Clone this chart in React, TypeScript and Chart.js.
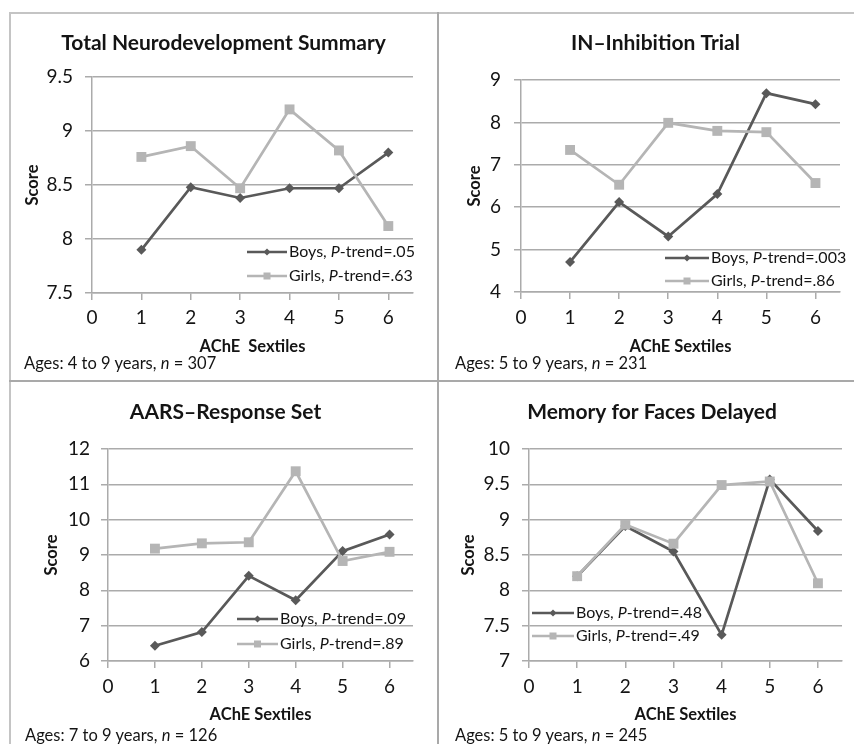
import React, { useEffect, useRef } from "react";
import { Chart, registerables } from "chart.js";

Chart.register(...registerables);

const FONT = "Lato, 'Open Sans', 'DejaVu Sans', sans-serif";
const BOYS_COLOR = "#595959";
const GIRLS_COLOR = "#b5b5b5";
const GRID_COLOR = "#ababab";
const TEXT_COLOR = "#141414";

// ---- data ----
const sextiles = [1, 2, 3, 4, 5, 6];
const xTickValues = [0, 1, 2, 3, 4, 5, 6];

const titles = [
  "Total Neurodevelopment Summary",
  "IN\u2013Inhibition Trial",
  "AARS\u2013Response Set",
  "Memory for Faces Delayed",
];
const xAxisTitles = ["AChE  Sextiles", "AChE Sextiles", "AChE Sextiles", "AChE Sextiles"];
const yAxisTitle = "Score";

const boysTotal = [7.9, 8.48, 8.38, 8.47, 8.47, 8.8];
const girlsTotal = [8.76, 8.86, 8.47, 9.2, 8.82, 8.12];
const boysInhibition = [4.71, 6.12, 5.31, 6.31, 8.69, 8.43];
const girlsInhibition = [7.35, 6.53, 7.99, 7.8, 7.77, 6.57];
const boysAars = [6.43, 6.82, 8.41, 7.72, 9.11, 9.58];
const girlsAars = [9.18, 9.33, 9.36, 11.37, 8.83, 9.09];
const boysFaces = [8.2, 8.91, 8.55, 7.37, 9.57, 8.84];
const girlsFaces = [8.2, 8.93, 8.66, 9.49, 9.54, 8.1];

const boysSeries = [boysTotal, boysInhibition, boysAars, boysFaces];
const girlsSeries = [girlsTotal, girlsInhibition, girlsAars, girlsFaces];
const boysPTrend = [".05", ".003", ".09", ".48"];
const girlsPTrend = [".63", ".86", ".89", ".49"];
const ageRanges = ["4 to 9", "5 to 9", "7 to 9", "5 to 9"];
const nValues = [307, 231, 126, 245];

const yMins = [7.5, 4, 6, 7];
const yMaxs = [9.5, 9, 12, 10];
const ySteps = [0.5, 1, 1, 0.5];
const xMin = 0;
const xMax = 6.5;

// ---- layout (page / canvas coordinates) ----
const layouts = [
  { left: 10, top: 14, w: 427, h: 366, yw: 82, pr: 24, pt: 63, xh: 87, yTitlePad: 13.1, yTickPad: 12, xTitlePad: 23.1, xTickPad: 6.6,
    titleX: 213.5, titleY: 29, legX1: 237, legX2: 277, legY: 238, legGap: 24, noteX: 24, noteY: 353 },
  { left: 440, top: 14, w: 414, h: 366, yw: 81, pr: 14, pt: 66, xh: 88, yTitlePad: 25.1, yTickPad: 13, xTitlePad: 23.1, xTickPad: 7.6,
    titleX: 215.5, titleY: 29, legX1: 225, legX2: 269, legY: 244, legGap: 23, noteX: 455, noteY: 353 },
  { left: 10, top: 383, w: 427, h: 361, yw: 98, pr: 24, pt: 66, xh: 83, yTitlePad: 32.1, yTickPad: 11, xTitlePad: 19.1, xTickPad: 7.6,
    titleX: 215.5, titleY: 29, legX1: 227, legX2: 268, legY: 236, legGap: 25, noteX: 25, noteY: 725 },
  { left: 440, top: 383, w: 414, h: 361, yw: 89, pr: 12, pt: 66, xh: 83, yTitlePad: 19.1, yTickPad: 12, xTitlePad: 19.1, xTickPad: 7.6,
    titleX: 212, titleY: 29, legX1: 92, legX2: 134, legY: 230, legGap: 23, noteX: 455, noteY: 725 },
];

function drawDiamond(ctx: CanvasRenderingContext2D, x: number, y: number, r: number) {
  ctx.beginPath();
  ctx.moveTo(x, y - r);
  ctx.lineTo(x + r, y);
  ctx.lineTo(x, y + r);
  ctx.lineTo(x - r, y);
  ctx.closePath();
  ctx.fill();
}

function Panel({ idx }: { idx: number }) {
  const ref = useRef<HTMLCanvasElement | null>(null);
  const L = layouts[idx];

  useEffect(() => {
    if (!ref.current) return;
    const rows = [
      { name: "Boys", p: boysPTrend[idx], color: BOYS_COLOR, marker: "diamond" },
      { name: "Girls", p: girlsPTrend[idx], color: GIRLS_COLOR, marker: "square" },
    ];
    const textPlugin = {
      id: "panelText",
      afterDraw(chart: any) {
        const ctx: CanvasRenderingContext2D = chart.ctx;
        ctx.save();
        ctx.fillStyle = TEXT_COLOR;
        ctx.textAlign = "center";
        ctx.textBaseline = "middle";
        ctx.font = `bold 21px ${FONT}`;
        ctx.fillText(titles[idx], L.titleX, L.titleY);

        rows.forEach((row, k) => {
          const y = L.legY + k * L.legGap;
          ctx.strokeStyle = row.color;
          ctx.lineWidth = 2.5;
          ctx.beginPath();
          ctx.moveTo(L.legX1, y);
          ctx.lineTo(L.legX2, y);
          ctx.stroke();
          const mx = (L.legX1 + L.legX2) / 2;
          ctx.fillStyle = row.color;
          if (row.marker === "diamond") drawDiamond(ctx, mx, y, 3.5);
          else ctx.fillRect(mx - 3.5, y - 3.5, 7, 7);

          let x = L.legX2 + 2;
          ctx.fillStyle = TEXT_COLOR;
          ctx.textAlign = "left";
          ctx.font = `16px ${FONT}`;
          const a = `${row.name}, `;
          ctx.fillText(a, x, y);
          x += ctx.measureText(a).width;
          ctx.font = `italic 16px ${FONT}`;
          ctx.fillText("P", x, y);
          x += ctx.measureText("P").width;
          ctx.font = `16px ${FONT}`;
          ctx.fillText(`-trend=${row.p}`, x, y);
        });
        ctx.restore();
      },
    };

    const chart = new Chart(ref.current, {
      type: "line",
      data: {
        datasets: [
          {
            label: "Girls",
            data: sextiles.map((s, i) => ({ x: s, y: girlsSeries[idx][i] })),
            borderColor: GIRLS_COLOR,
            backgroundColor: GIRLS_COLOR,
            borderWidth: 2.7,
            pointStyle: "rect",
            pointRadius: 7,
            pointBorderWidth: 0,
            tension: 0,
          },
          {
            label: "Boys",
            data: sextiles.map((s, i) => ({ x: s, y: boysSeries[idx][i] })),
            borderColor: BOYS_COLOR,
            backgroundColor: BOYS_COLOR,
            borderWidth: 2.7,
            pointStyle: "rectRot",
            pointRadius: 5,
            pointBorderWidth: 0,
            tension: 0,
          },
        ],
      },
      options: {
        animation: false,
        responsive: false,
        maintainAspectRatio: false,
        layout: { padding: { left: 0, right: L.pr, top: L.pt, bottom: 0 } },
        plugins: { legend: { display: false }, tooltip: { enabled: false }, title: { display: false } },
        scales: {
          x: {
            type: "linear",
            min: xMin,
            max: xMax,
            afterBuildTicks: (s: any) => {
              s.ticks = xTickValues.map((v) => ({ value: v }));
            },
            afterFit: (s: any) => {
              s.height = L.xh;
            },
            ticks: {
              stepSize: 1,
              padding: L.xTickPad,
              color: TEXT_COLOR,
              font: { family: FONT, size: 19 },
              callback: (v: any) => String(v),
            },
            grid: { display: true, drawOnChartArea: false, drawTicks: true, tickLength: 7, color: GRID_COLOR, lineWidth: 1.5 },
            border: { display: true, color: GRID_COLOR, width: 1.5 },
            title: {
              display: true,
              text: xAxisTitles[idx],
              color: TEXT_COLOR,
              font: { family: FONT, size: 16.5, weight: "bold" },
              padding: { top: 0, bottom: L.xTitlePad },
            },
          },
          y: {
            type: "linear",
            min: yMins[idx],
            max: yMaxs[idx],
            afterFit: (s: any) => {
              s.width = L.yw;
            },
            ticks: {
              stepSize: ySteps[idx],
              padding: L.yTickPad,
              color: TEXT_COLOR,
              font: { family: FONT, size: 19 },
              callback: (v: any) => String(v),
            },
            grid: { display: true, drawTicks: true, tickLength: 7, color: GRID_COLOR, lineWidth: 1.5 },
            border: { display: true, color: GRID_COLOR, width: 1.5 },
            title: {
              display: true,
              text: yAxisTitle,
              color: TEXT_COLOR,
              font: { family: FONT, size: 16.5, weight: "bold" },
              padding: { top: L.yTitlePad, bottom: 0 },
            },
          },
        },
      },
      plugins: [textPlugin],
    } as any);
    return () => chart.destroy();
  }, [idx]);

  return (
    <>
      <canvas
        ref={ref}
        width={L.w}
        height={L.h}
        style={{ position: "absolute", left: L.left, top: L.top, width: L.w, height: L.h }}
      />
      <div
        style={{
          position: "absolute",
          left: L.noteX,
          top: L.noteY,
          fontFamily: FONT,
          fontSize: 16.5,
          lineHeight: "20px",
          color: TEXT_COLOR,
          whiteSpace: "nowrap",
        }}
      >
        Ages: {ageRanges[idx]} years, <i>n</i> = {nValues[idx]}
      </div>
    </>
  );
}

export default function App() {
  const line = (s: React.CSSProperties) => <div style={{ position: "absolute", ...s }} />;
  return (
    <div style={{ position: "absolute", left: 0, top: 0, width: 854, height: 744, background: "#fff", overflow: "hidden" }}>
      {line({ left: 9, top: 12, width: 845, height: 2, background: "#c4c4c4" })}
      {line({ left: 9, top: 12, width: 2, height: 732, background: "#c4c4c4" })}
      {line({ left: 437, top: 12, width: 2, height: 732, background: "#a9a9a9" })}
      {line({ left: 9, top: 380, width: 845, height: 2, background: "#a9a9a9" })}
      {[0, 1, 2, 3].map((i) => (
        <Panel key={i} idx={i} />
      ))}
    </div>
  );
}
